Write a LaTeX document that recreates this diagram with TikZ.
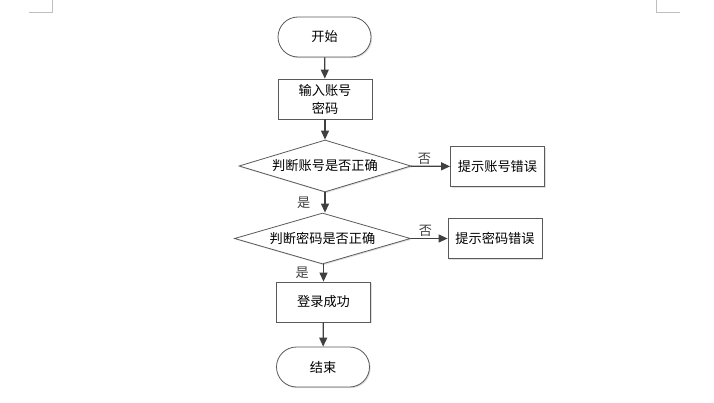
\documentclass[tikz,border=0pt]{standalone}
\usepackage{fontspec}
\setmainfont{Noto Sans CJK SC}
\usetikzlibrary{positioning}
\usetikzlibrary{shapes.geometric}
\usetikzlibrary{shapes.misc}
\usetikzlibrary{arrows.meta}
\usetikzlibrary{shadows}
\definecolor{edgegray}{HTML}{5A5A5A}
\definecolor{arrgray}{HTML}{404040}
\definecolor{markgray}{HTML}{BFBFBF}
\tikzset{box/.style={draw=edgegray,line width=0.8pt,fill=white,inner sep=0pt,
  font=\fontsize{13.2}{18}\selectfont,
  drop shadow={shadow xshift=1.2pt,shadow yshift=-1.2pt,fill=black!12,opacity=1}}}
\tikzset{term/.style={box,rounded rectangle,minimum width=93pt,minimum height=40pt}}
\tikzset{proc/.style={box,rectangle,minimum width=94pt,minimum height=40pt,align=center}}
\tikzset{decide/.style={box,diamond,aspect=3.3,minimum width=172pt,minimum height=52pt}}
\tikzset{ed/.style={inner sep=1pt,font=\fontsize{13.2}{15}\selectfont}}
\tikzset{>={Triangle[length=9pt,width=8pt]}}

\begin{document}
\begin{tikzpicture}[x=1pt,y=-1pt]
\useasboundingbox (0,0) rectangle (714,403);

% page corner marks
\draw[markgray,line width=0.8pt] (29,12) -- (52,12) -- (52,0);
\draw[markgray,line width=0.8pt] (680,12) -- (656,12) -- (656,0);

\node[term] (start) at (324.5,37) {开始};
\node[proc] (input) at (325,99) {输入账号\\密码};
\node[decide] (chkacc) at (325,166) {判断账号是否正确};
\node[proc] (erracc) at (497.5,166.5) {提示账号错误};
\node[decide, minimum width=176pt, minimum height=51pt] (chkpwd) at (322.5,238.5) {判断密码是否正确};
\node[proc] (errpwd) at (495,238.5) {提示密码错误};
\node[proc] (ok) at (323.5,302) {登录成功};
\node[term] (stop) at (323,367) {结束};

\draw[->,arrgray,line width=1.2pt] (start) -- (input);
\draw[->,arrgray,line width=1.2pt] (input) -- (chkacc);
\draw[->,arrgray,line width=1.2pt] (chkacc) -- node[ed,above,pos=0.35] {否} (erracc);
\draw[->,arrgray,line width=1.2pt] (chkacc.south) -- node[ed,left=13pt] {是} (chkacc.south |- chkpwd.north);
\draw[->,arrgray,line width=1.2pt] (chkpwd) -- node[ed,above,pos=0.4] {否} (errpwd);
\draw[->,arrgray,line width=1.2pt] (chkpwd.south -| ok.north) -- node[ed,left=13pt] {是} (ok);
\draw[->,arrgray,line width=1.2pt] (ok) -- (stop);
\end{tikzpicture}
\end{document}
